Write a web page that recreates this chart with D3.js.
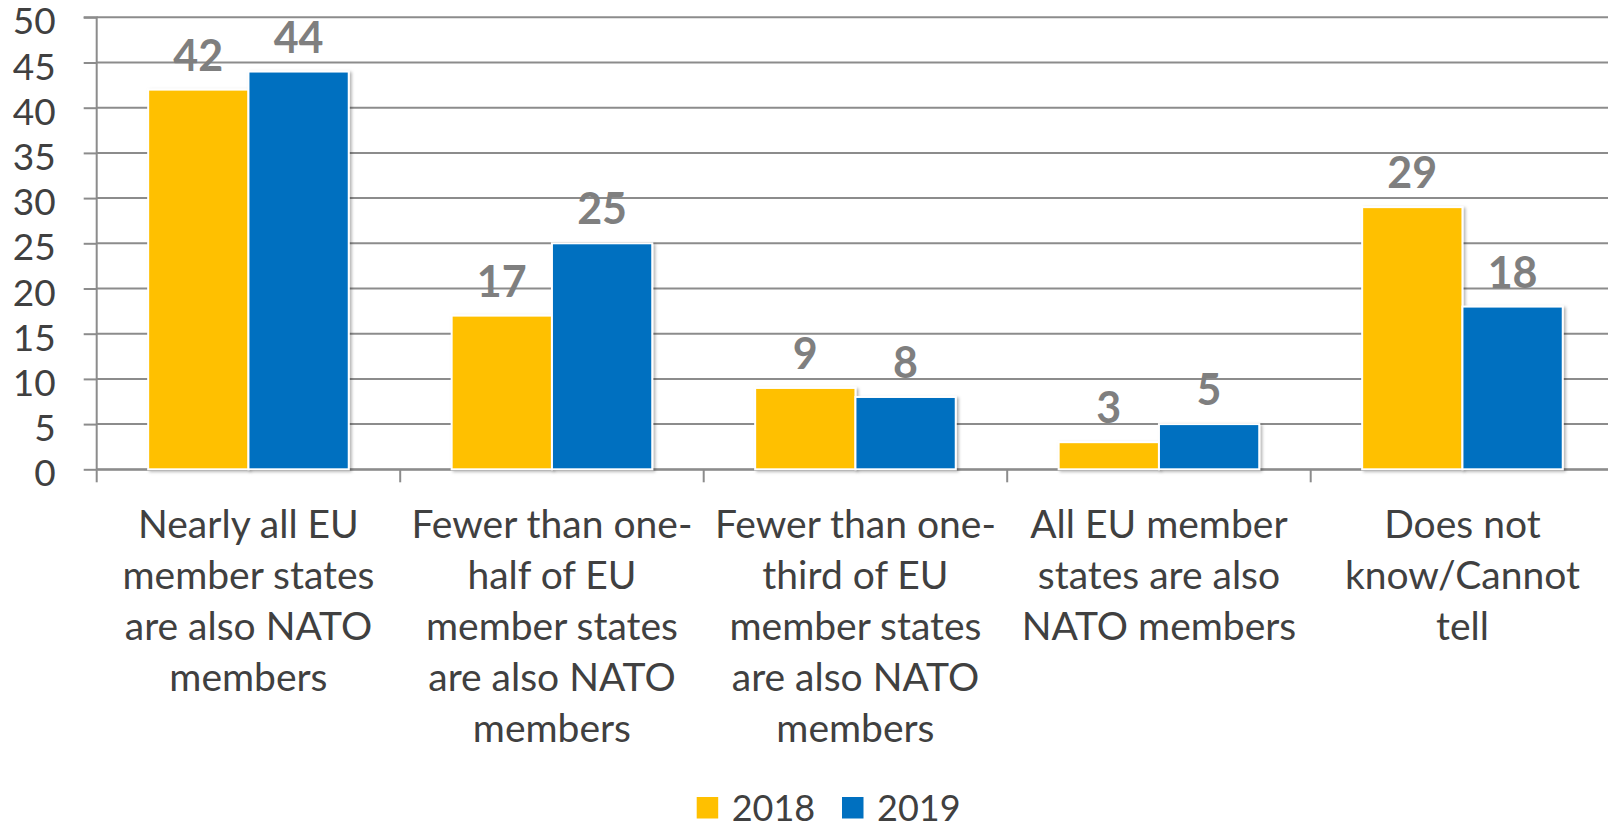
<!DOCTYPE html>
<html><head><meta charset="utf-8">
<script src="https://cdn.jsdelivr.net/npm/d3@7"></script>
<style>body{margin:0;background:#fff;overflow:hidden}svg{display:block}</style>
</head><body>
<svg id="c" width="1608" height="828"></svg>
<script>
const categories = [
  ["Nearly all EU","member states","are also NATO","members"],
  ["Fewer than one-","half of EU","member states","are also NATO","members"],
  ["Fewer than one-","third of EU","member states","are also NATO","members"],
  ["All EU member","states are also","NATO members"],
  ["Does not","know/Cannot","tell"]
];
const seriesNames = ["2018","2019"];
const values2018 = [42,17,9,3,29];
const values2019 = [44,25,8,5,18];
const yTicks = [0,5,10,15,20,25,30,35,40,45,50];
const colors = ["#FFC000","#0070C0"];

(function(){
const svg = d3.select("#c");
const FONT = "Lato, 'Open Sans', sans-serif";
const pLeft = 96.7, pTop = 17.3, pBottom = 469.3;
const step = 303.5;
const pRight = pLeft + step*categories.length;

const defs = svg.append("defs");
const f = defs.append("filter").attr("id","sh").attr("x","-10%").attr("y","-10%").attr("width","130%").attr("height","130%");
f.append("feDropShadow").attr("dx",2).attr("dy",1.5).attr("stdDeviation",1.8).attr("flood-color","#000").attr("flood-opacity",0.3);

const x0 = d3.scaleBand().domain(d3.range(categories.length)).range([pLeft,pRight]).paddingInner(0).paddingOuter(0);
const x1 = d3.scaleBand().domain(seriesNames).range([0,x0.bandwidth()]).paddingInner(0).paddingOuter(0.513);
const y = d3.scaleLinear().domain([0,50]).range([pBottom,pTop]);

// gridlines
svg.append("g").selectAll("line").data(yTicks).join("line")
  .attr("x1",pLeft).attr("x2",1608).attr("y1",d=>y(d)).attr("y2",d=>y(d))
  .attr("stroke","#8c8c8c").attr("stroke-width",2);

// y axis
const ya = svg.append("g").attr("transform",`translate(${pLeft},0)`)
  .call(d3.axisLeft(y).tickValues(yTicks).tickSize(13).tickPadding(28).tickFormat(d3.format("d")));
ya.select(".domain").attr("stroke","#8c8c8c").attr("stroke-width",2).attr("d",`M-13,${pTop}H0V${pBottom}`);
ya.selectAll(".tick line").attr("stroke","#8c8c8c").attr("stroke-width",2);
ya.selectAll(".tick text").attr("fill","#404040").attr("dy","0.45em")
  .style("font-family",FONT).style("font-size","37px");

// x axis
const xa = svg.append("g").attr("transform",`translate(0,${pBottom})`)
  .call(d3.axisBottom(x0).tickValues([]).tickSizeOuter(0));
xa.select(".domain").attr("stroke","#8c8c8c").attr("stroke-width",2);
svg.append("g").selectAll("line").data(d3.range(categories.length+1)).join("line")
  .attr("x1",d=>pLeft+d*step).attr("x2",d=>pLeft+d*step)
  .attr("y1",pBottom).attr("y2",pBottom+13)
  .attr("stroke","#8c8c8c").attr("stroke-width",2);

// bars
const data = categories.map((c,i)=>({i, vals:[values2018[i],values2019[i]]}));
const groups = svg.append("g").selectAll("g").data(data).join("g")
  .attr("transform",d=>`translate(${x0(d.i)},0)`);
groups.selectAll("rect").data(d=>d.vals.map((v,k)=>({k,v}))).join("rect")
  .attr("x",d=>x1(seriesNames[d.k])).attr("width",x1.bandwidth())
  .attr("y",d=>y(d.v)).attr("height",d=>pBottom-y(d.v))
  .attr("fill",d=>colors[d.k]).attr("stroke","#fff").attr("stroke-width",2)
  .attr("filter","url(#sh)");
groups.selectAll("text").data(d=>d.vals.map((v,k)=>({k,v}))).join("text")
  .attr("x",d=>x1(seriesNames[d.k])+x1.bandwidth()/2).attr("y",d=>y(d.v)-19)
  .attr("text-anchor","middle").attr("fill","#7f7f7f")
  .style("font-family",FONT).style("font-weight","bold").style("font-size","43px")
  .text(d=>d.v);

// category labels
const cl = svg.append("g").selectAll("text").data(categories).join("text")
  .attr("text-anchor","middle").attr("fill","#404040")
  .style("font-family",FONT).style("font-size","39px");
cl.each(function(lines,i){
  d3.select(this).selectAll("tspan").data(lines).join("tspan")
    .attr("x",x0(i)+x0.bandwidth()/2).attr("y",(d,j)=>538+j*51).text(d=>d);
});

// legend
const lg = svg.append("g");
const lx = [696.7, 842];
seriesNames.forEach((s,k)=>{
  lg.append("rect").attr("x",lx[k]).attr("y",797).attr("width",21.5).attr("height",21.5).attr("fill",colors[k]);
  lg.append("text").attr("x",lx[k]+35).attr("y",821).attr("fill","#404040")
    .style("font-family",FONT).style("font-size","36px").text(s);
});
})();
</script>
</body></html>
